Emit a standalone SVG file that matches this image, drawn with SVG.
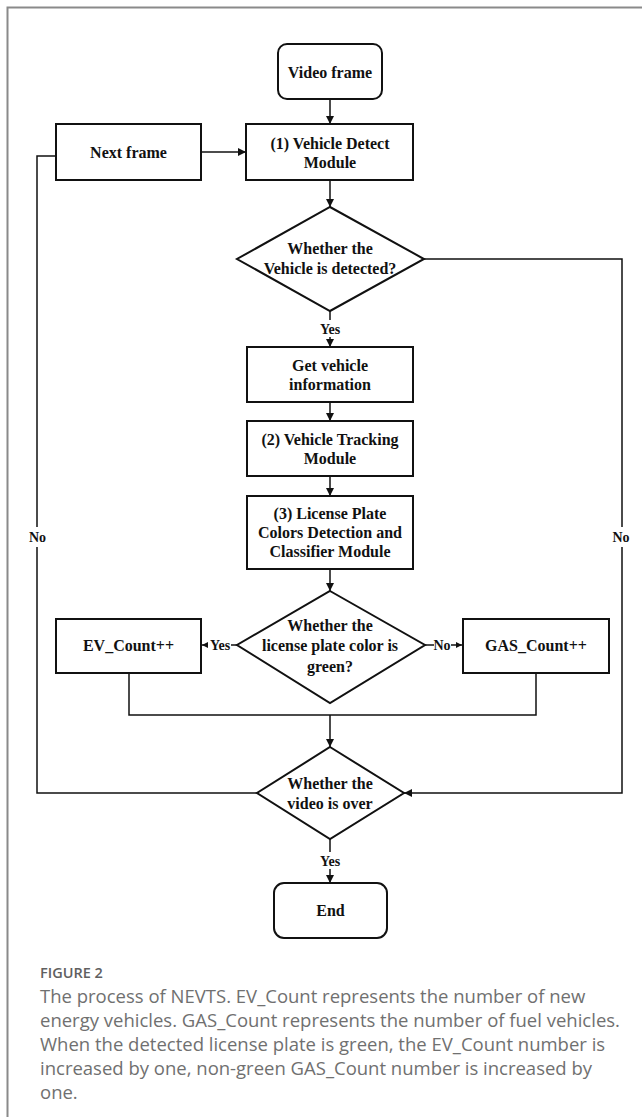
<svg xmlns="http://www.w3.org/2000/svg" width="642" height="1117" viewBox="0 0 642 1117">
<defs>
<marker id="ah" viewBox="0 0 10 10" refX="10" refY="5" markerWidth="8" markerHeight="8" markerUnits="userSpaceOnUse" orient="auto">
<path d="M0,0 L10,5 L0,10 z" fill="#111"/>
</marker>
<marker id="ahs" viewBox="0 0 10 10" refX="10" refY="5" markerWidth="6" markerHeight="6" markerUnits="userSpaceOnUse" orient="auto">
<path d="M0,0 L10,5 L0,10 z" fill="#111"/>
</marker>
</defs>
<style>
.box{fill:#fff;stroke:#111;stroke-width:2}
.t{font-family:"Liberation Serif","Times New Roman",serif;font-weight:bold;font-size:16px;fill:#111;text-anchor:middle;dominant-baseline:central}
.lb{font-family:"Liberation Serif","Times New Roman",serif;font-weight:bold;font-size:14px;fill:#111;text-anchor:middle;dominant-baseline:central}
.ln{fill:none;stroke:#111;stroke-width:1.5}
.arr{fill:none;stroke:#111;stroke-width:1.5;marker-end:url(#ah)}
.arrs{fill:none;stroke:#111;stroke-width:1.5;marker-end:url(#ahs)}
.frame{fill:none;stroke:#8a8a8a;stroke-width:2}
.cap{font-family:"Open Sans","Liberation Sans",sans-serif;font-size:18.5px;fill:#707070;font-weight:400}
.fig{font-family:"Open Sans","Liberation Sans",sans-serif;font-size:14.5px;fill:#606060;font-weight:600}
</style>
<rect width="642" height="1117" fill="#fff"/>
<path class="frame" d="M7.5,1117 V7.5 H642"/>

<g id="connectors">
<path class="arr" d="M330,99 V124"/>
<path class="arr" d="M201,152 H246"/>
<path class="arr" d="M330,180 V207"/>
<path class="arr" d="M330,311 V347"/>
<path class="arr" d="M330,402 V421"/>
<path class="arr" d="M330,476 V496"/>
<path class="arr" d="M330,569 V591"/>
<path class="arrs" d="M237,645 H202"/>
<path class="arrs" d="M425,645 H462"/>
<path class="ln" d="M129,673 V715 H536 V673"/>
<path class="arr" d="M330,715 V747"/>
<path class="ln" d="M56,156 H37 V793 H257"/>
<path class="arr" d="M424,259 H622 V793 H404"/>
<path class="arr" d="M330,839 V883"/>
<rect x="318" y="320" width="24" height="17" fill="#fff"/>
<text class="lb" x="330" y="329">Yes</text>
<rect x="208" y="637" width="23" height="16" fill="#fff"/>
<text class="lb" x="220" y="645" font-size="13">Yes</text>
<rect x="434" y="637" width="17" height="16" fill="#fff"/>
<text class="lb" x="442" y="645" font-size="13">No</text>
<rect x="27" y="527" width="21" height="20" fill="#fff"/>
<text class="lb" x="37.5" y="537">No</text>
<rect x="610" y="527" width="22" height="20" fill="#fff"/>
<text class="lb" x="621" y="537">No</text>
<rect x="318" y="852" width="24" height="17" fill="#fff"/>
<text class="lb" x="330" y="861">Yes</text>
</g>

<g id="video-frame">
<rect class="box" x="278" y="44" width="104" height="55" rx="9"/>
<text class="t" x="330" y="72">Video frame</text>
</g>
<g id="next-frame">
<rect class="box" x="56" y="124" width="145" height="56"/>
<text class="t" x="128.5" y="152">Next frame</text>
</g>
<g id="vehicle-detect">
<rect class="box" x="246" y="124" width="167" height="56"/>
<text class="t" x="330" y="143">(1) Vehicle Detect</text>
<text class="t" x="330" y="162">Module</text>
</g>
<g id="detected-decision">
<path class="box" d="M330,207 L424,259 L330,311 L237,259 z"/>
<text class="t" x="330" y="248">Whether the</text>
<text class="t" x="330" y="268.5">Vehicle is detected?</text>
</g>
<g id="get-info">
<rect class="box" x="247" y="347" width="166" height="55"/>
<text class="t" x="330" y="365">Get vehicle</text>
<text class="t" x="330" y="384">information</text>
</g>
<g id="tracking">
<rect class="box" x="247" y="421" width="166" height="55"/>
<text class="t" x="330" y="439">(2) Vehicle Tracking</text>
<text class="t" x="330" y="458">Module</text>
</g>
<g id="license">
<rect class="box" x="247" y="496" width="166" height="73"/>
<text class="t" x="330" y="513.5">(3) License Plate</text>
<text class="t" x="330" y="532.5">Colors Detection and</text>
<text class="t" x="330" y="551.5">Classifier Module</text>
</g>
<g id="green-decision">
<path class="box" d="M330,591 L425,645 L330,703 L237,645 z"/>
<text class="t" x="330" y="625.5">Whether the</text>
<text class="t" x="330" y="645">license plate color is</text>
<text class="t" x="330" y="666">green?</text>
</g>
<g id="ev-count">
<rect class="box" x="56" y="619" width="145" height="54"/>
<text class="t" x="128.5" y="645">EV_Count++</text>
</g>
<g id="gas-count">
<rect class="box" x="463" y="619" width="146" height="54"/>
<text class="t" x="536" y="645">GAS_Count++</text>
</g>
<g id="over-decision">
<path class="box" d="M330,747 L404,793 L330,839 L257,793 z"/>
<text class="t" x="330" y="783">Whether the</text>
<text class="t" x="330" y="803">video is over</text>
</g>
<g id="end">
<rect class="box" x="274" y="883" width="113" height="55" rx="10"/>
<text class="t" x="330.5" y="910.5">End</text>
</g>

<g id="caption">
<text class="fig" x="40" y="978">FIGURE 2</text>
<text class="cap" x="40" y="1003">The process of NEVTS. EV_Count represents the number of new</text>
<text class="cap" x="40" y="1027">energy vehicles. GAS_Count represents the number of fuel vehicles.</text>
<text class="cap" x="40" y="1051">When the detected license plate is green, the EV_Count number is</text>
<text class="cap" x="40" y="1075">increased by one, non-green GAS_Count number is increased by</text>
<text class="cap" x="40" y="1099">one.</text>
</g>
</svg>
